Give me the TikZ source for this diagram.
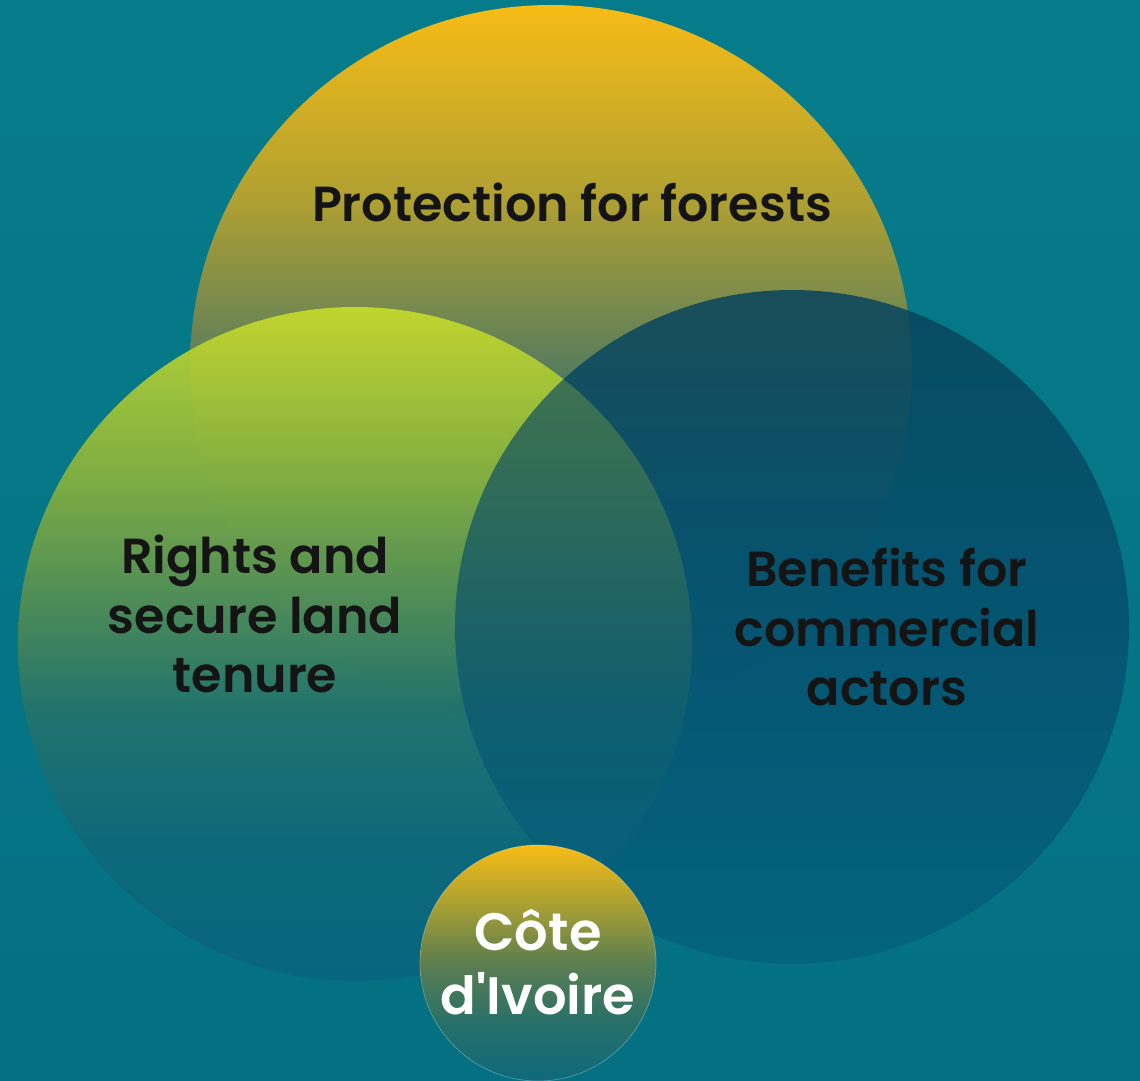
\documentclass[tikz,border=0pt]{standalone}
\usepackage{fontspec}
\setmainfont{Poppins}[BoldFont=* SemiBold, Ligatures=TeXOff]
\definecolor{bgtop}{RGB}{6,124,138}
\definecolor{bgbot}{RGB}{4,112,130}
\definecolor{yel}{RGB}{247,188,22}
\definecolor{topup}{RGB}{175,160,50}
\definecolor{topmid}{RGB}{82,122,96}
\definecolor{tealmix}{RGB}{22,115,122}
\definecolor{teal}{RGB}{8,112,130}
\definecolor{lime}{RGB}{202,222,44}
\definecolor{l25}{RGB}{140,180,60}
\definecolor{l45}{RGB}{82,140,85}
\definecolor{l60}{RGB}{36,115,108}
\definecolor{l80}{RGB}{14,104,122}
\definecolor{lbot}{RGB}{8,100,126}
\definecolor{rtop}{RGB}{8,68,92}
\definecolor{rmid}{RGB}{6,80,110}
\definecolor{rbot}{RGB}{4,98,126}
\definecolor{s25}{RGB}{170,160,50}
\definecolor{s50}{RGB}{92,126,80}
\definecolor{s75}{RGB}{40,112,105}
\definecolor{sbot}{RGB}{14,105,124}
\pgfdeclareverticalshading{topshade}{100bp}{%
  color(0bp)=(teal); color(25bp)=(teal);
  color(40bp)=(tealmix); color(49bp)=(topmid);
  color(61.5bp)=(topup); color(75bp)=(yel); color(100bp)=(yel)}
\pgfdeclareverticalshading{leftshade}{100bp}{%
  color(0bp)=(lbot); color(25bp)=(lbot);
  color(35bp)=(l80); color(45bp)=(l60);
  color(52.5bp)=(l45); color(62.5bp)=(l25); color(75bp)=(lime); color(100bp)=(lime)}
\pgfdeclareverticalshading{rightshade}{100bp}{%
  color(0bp)=(rbot); color(25bp)=(rbot);
  color(50bp)=(rmid); color(75bp)=(rtop); color(100bp)=(rtop)}
\pgfdeclareverticalshading{smallshade}{100bp}{%
  color(0bp)=(sbot); color(25bp)=(sbot);
  color(37.5bp)=(s75); color(50bp)=(s50);
  color(62.5bp)=(s25); color(75bp)=(yel); color(100bp)=(yel)}
\begin{document}
\begin{tikzpicture}[x=0.02cm,y=-0.02cm,
  lbl/.style={font=\bfseries\fontsize{28}{34}\selectfont, align=center, text=black!92},
  wlbl/.style={font=\bfseries\fontsize{30}{36}\selectfont, align=center, text=white}]
\useasboundingbox (0,0) rectangle (1140,1081);
\shade[top color=bgtop, bottom color=bgbot] (0,0) rectangle (1140,1081);
% top circle
\shade[shading=topshade] (551,366) circle[radius=361];
% left circle
\shade[shading=leftshade, fill opacity=0.9] (355,644) circle[radius=337];
% right circle
\shade[shading=rightshade, fill opacity=0.85] (792,627) circle[radius=337];
% lens tint (left over right)
\begin{scope}
  \clip (792,627) circle[radius=337];
  \shade[shading=leftshade, fill opacity=0.22] (355,644) circle[radius=337];
\end{scope}
% small circle
\shade[shading=smallshade] (538,963) circle[radius=118];
\draw[white, opacity=0.3, line width=0.4pt] (538,963) circle[radius=118];
% labels
\node[lbl] (prot) at (572,202) {Protection for forests};
\node[lbl] (rights) at (255,614) {Rights and\\secure land\\tenure};
\node[lbl] (benef) at (887,627) {Benefits for\\commercial\\actors};
\node[wlbl] (cote) at (538,962) {Côte\\d'Ivoire};
\end{tikzpicture}
\end{document}
